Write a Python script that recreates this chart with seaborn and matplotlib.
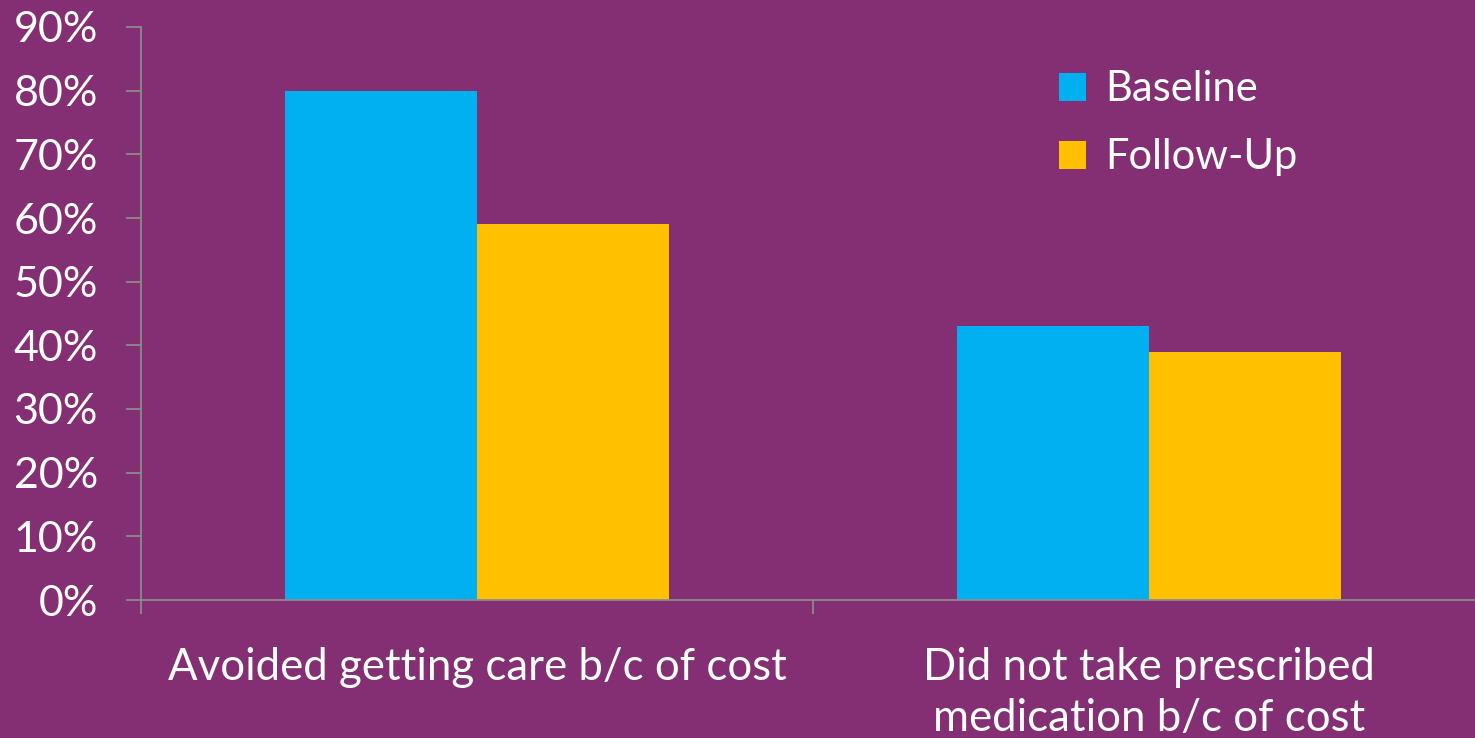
import matplotlib
matplotlib.use("Agg")
import matplotlib.pyplot as plt
import seaborn as sns
import pandas as pd
from matplotlib.ticker import FuncFormatter, FixedLocator

categories = ["Avoided getting care b/c of cost", "Did not take prescribed\nmedication b/c of cost"]
series = ["Baseline", "Follow-Up"]
baseline = [80, 43]
follow_up = [59, 39]
colors = ["#00B0F0", "#FFC000"]
bg = "#842E73"

df = pd.DataFrame({
    "category": categories * 2,
    "series": [series[0]] * 2 + [series[1]] * 2,
    "value": baseline + follow_up,
})

sns.set_theme(style="white")
plt.rcParams["font.family"] = ["Lato", "DejaVu Sans"]

fig = plt.figure(figsize=(14.75, 7.38), dpi=100, facecolor=bg)
ax = fig.add_axes([141 / 1475, 138 / 738, 1 - 141 / 1475, (600 - 27) / 738])
ax.set_facecolor(bg)

sns.barplot(data=df, x="category", y="value", hue="series", palette=colors,
            width=0.572, saturation=1, ax=ax, linewidth=0, legend=True)

ax.set_xlim(-0.5, 1.485)
ax.set_ylim(0, 90)
ax.yaxis.set_major_locator(FixedLocator(range(0, 91, 10)))
ax.yaxis.set_major_formatter(FuncFormatter(lambda v, p: f"{int(v)}%"))
ax.set_xlabel("")
ax.set_ylabel("")

for s in ["top", "right"]:
    ax.spines[s].set_visible(False)
for s in ["left", "bottom"]:
    ax.spines[s].set_color("#8C8C8C")
    ax.spines[s].set_linewidth(1.3)

ax.tick_params(axis="y", which="major", left=True, length=11, width=1.3, color="#8C8C8C",
               labelsize=31, labelcolor="white", pad=20)
ax.tick_params(axis="x", which="major", bottom=False, labelsize=31.5, labelcolor="white", pad=28)
ax.xaxis.set_minor_locator(FixedLocator([-0.5, 0.5, 1.5]))
ax.tick_params(axis="x", which="minor", bottom=True, length=10, width=1.3, color="#8C8C8C")
for lbl in ax.get_xticklabels():
    lbl.set_linespacing(1.3)
    lbl.set_va("top")

leg = ax.legend(loc="upper left", bbox_to_anchor=(0.66, 0.99), frameon=False,
                fontsize=30, labelcolor="white", handlelength=0.65, handleheight=0.65,
                handletextpad=0.45, labelspacing=0.72)

fig.savefig("out.png", dpi=100, facecolor=bg)
